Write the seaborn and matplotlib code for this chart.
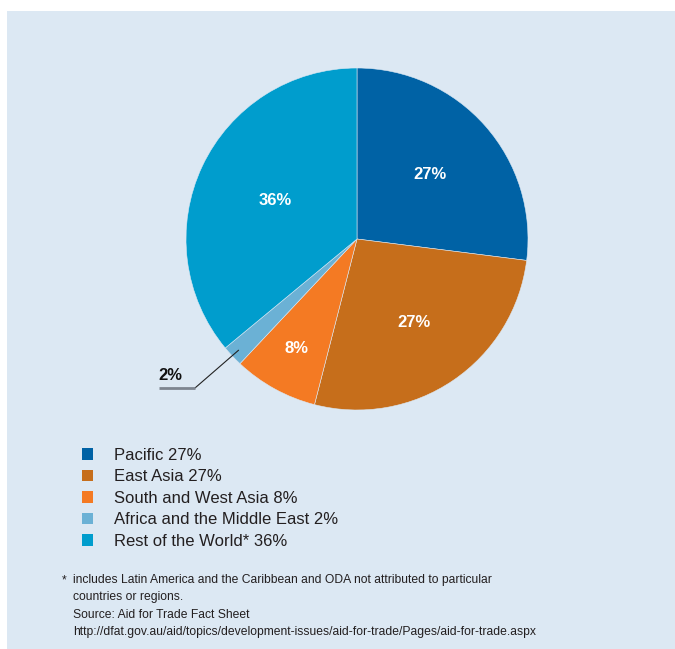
import numpy as np
import matplotlib.pyplot as plt
import seaborn as sns
from matplotlib.patches import Patch, Rectangle

# data
regions = ["Pacific", "East Asia", "South and West Asia",
           "Africa and the Middle East", "Rest of the World*"]
shares = [27, 27, 8, 2, 36]
colors = ["#0062a5", "#c66e1b", "#f47a23", "#6bb1d5", "#009dcd"]
footnote = ("includes Latin America and the Caribbean and ODA not attributed to particular\n"
            "countries or regions.\n"
            "Source: Aid for Trade Fact Sheet\n"
            "http://dfat.gov.au/aid/topics/development-issues/aid-for-trade/Pages/aid-for-trade.aspx")

sns.set_theme(style="white")
plt.rcParams['font.family'] = ['Liberation Sans', 'DejaVu Sans']

W, H = 675, 649
fig = plt.figure(figsize=(W / 100, H / 100), dpi=100, facecolor="white")
bg = "#dce8f3"
fig.patches.append(Rectangle((7 / W, 0), 1 - 7 / W, (H - 11) / H,
                             transform=fig.transFigure, facecolor=bg,
                             edgecolor="none", zorder=-5))

cx, cy, r = 357, 239, 171
ax = fig.add_axes([(cx - r) / W, (H - cy - r) / H, 2 * r / W, 2 * r / H])
ax.set_facecolor("none")
ax.set_zorder(2)
wedges, _ = ax.pie(shares, colors=colors, startangle=90, counterclock=False,
                   radius=1, wedgeprops=dict(linewidth=0.4, edgecolor=bg))
ax.set_xlim(-1, 1)
ax.set_ylim(-1, 1)
ax.axis("off")

# percentage labels inside slices
label_r = [0.57, 0.59, 0.73, None, 0.53]
for w, s, lr in zip(wedges, shares, label_r):
    mid = np.deg2rad((w.theta1 + w.theta2) / 2)
    if lr is None:
        # small slice: leader line outside
        sx, sy = 0.95 * np.cos(mid), 0.95 * np.sin(mid)
        ex, ey = -0.947, -0.871
        ax.plot([sx, ex], [sy, ey], color="#222222", lw=0.8, clip_on=False)
        ax.plot([ex, -1.155], [ey, ey], color="#7d8590", lw=2, clip_on=False,
                solid_capstyle="butt")
        ax.text(-1.09, -0.8, f"{s}%", ha="center", va="center",
                fontsize=12, fontweight="bold", color="#111111")
        continue
    ax.text(lr * np.cos(mid), lr * np.sin(mid), f"{s}%", ha="center",
            va="center", fontsize=12, fontweight="bold", color="white")

handles = [Patch(facecolor=c, edgecolor="none") for c in colors]
labels = [f"{n} {s}%" for n, s in zip(regions, shares)]
fig.legend(handles, labels, loc="upper left",
           bbox_to_anchor=(75 / W, 1 - 441 / H), frameon=False,
           fontsize=12, handlelength=0.7, handleheight=0.7,
           handletextpad=1.25, labelspacing=0.39, borderaxespad=0,
           labelcolor="#231f20")

foot_font = ['Liberation Sans Narrow', 'Liberation Sans', 'DejaVu Sans']
fig.text(62 / W, 1 - 574 / H, "*", fontsize=8.7, va="top", color="#231f20",
         family=foot_font)
fig.text(73 / W, 1 - 574 / H, footnote, fontsize=8.7, va="top", ha="left",
         linespacing=1.6, color="#231f20", family=foot_font)

fig.savefig("out.png", dpi=100, facecolor=fig.get_facecolor())
